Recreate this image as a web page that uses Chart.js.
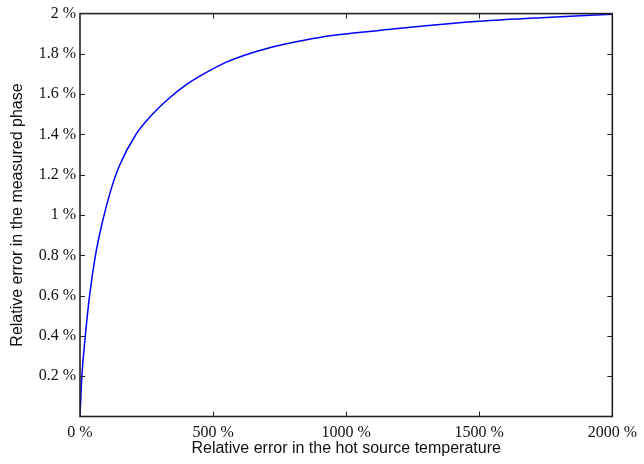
<!DOCTYPE html>
<html>
<head>
<meta charset="utf-8">
<script src="https://cdn.jsdelivr.net/npm/chart.js@4"></script>
<style>
  html, body { margin: 0; padding: 0; background: #ffffff; }
  #wrap { width: 644px; height: 464px; }
</style>
</head>
<body>
<div id="wrap"><canvas id="phaseChart" width="644" height="464"></canvas></div>
<script>
const chartCanvas = document.getElementById("phaseChart");

// relative error in hot source temperature (%)
const tempError = [0, 7, 20, 36, 58, 85, 115, 148, 210, 272, 335, 397, 460, 548, 647, 747, 847, 947, 1047, 1250, 1500, 1750, 2000];
// relative error in measured phase (%)
const phaseError = [0, 0.2, 0.4, 0.6, 0.8, 0.97, 1.12, 1.245, 1.4, 1.5, 1.58, 1.645, 1.697, 1.758, 1.806, 1.842, 1.869, 1.891, 1.906, 1.934, 1.962, 1.981, 1.997];

const xTicks = [0, 500, 1000, 1500, 2000];
const yTicks = [0, 0.2, 0.4, 0.6, 0.8, 1, 1.2, 1.4, 1.6, 1.8, 2];

const palette = {
  line: "#0000ff",
  frame: "#222222",
  text: "#111111"
};

const formatPct = (value) => `${Number(value.toFixed(1))} %`;

// matplotlib-like frame with inward ticks on all four sides
const frameTicksPlugin = {
  id: "frameTicksPlugin",
  afterDraw(chart) {
    const { ctx, chartArea, scales } = chart;
    const { left, right, top, bottom } = chartArea;
    const len = 5;

    ctx.save();
    ctx.strokeStyle = palette.frame;
    ctx.lineWidth = 1;
    xTicks.slice(1, -1).forEach((value) => {
      const x = Math.round(scales.x.getPixelForValue(value)) + 0.5;
      ctx.beginPath();
      ctx.moveTo(x, bottom);
      ctx.lineTo(x, bottom - len);
      ctx.moveTo(x, top);
      ctx.lineTo(x, top + len);
      ctx.stroke();
    });
    yTicks.slice(1, -1).forEach((value) => {
      const y = Math.round(scales.y.getPixelForValue(value)) + 0.5;
      ctx.beginPath();
      ctx.moveTo(left, y);
      ctx.lineTo(left + len, y);
      ctx.moveTo(right, y);
      ctx.lineTo(right - len, y);
      ctx.stroke();
    });

    ctx.lineWidth = 1.6;
    ctx.strokeRect(left, top, right - left, bottom - top);
    ctx.restore();
  }
};

new Chart(chartCanvas, {
  type: "line",
  data: {
    datasets: [
      {
        label: "Phase error",
        data: tempError.map((x, i) => ({ x, y: phaseError[i] })),
        borderColor: palette.line,
        borderWidth: 1.5,
        pointRadius: 0,
        cubicInterpolationMode: "monotone",
        fill: false
      }
    ]
  },
  options: {
    responsive: false,
    animation: false,
    parsing: false,
    layout: {
      padding: { top: 11, right: 28, left: 0, bottom: 0 }
    },
    plugins: {
      legend: { display: false },
      tooltip: { enabled: false }
    },
    scales: {
      x: {
        type: "linear",
        min: 0,
        max: 2000,
        afterFit: (scale) => { scale.height = 47.5; },
        afterBuildTicks: (scale) => { scale.ticks = xTicks.map((value) => ({ value })); },
        grid: { display: false, drawTicks: false },
        border: { display: false },
        ticks: {
          color: palette.text,
          padding: 7,
          maxRotation: 0,
          font: { family: "Liberation Serif", size: 16 },
          callback: (value) => formatPct(value)
        },
        title: {
          display: true,
          text: "Relative error in the hot source temperature",
          color: palette.text,
          padding: { top: 0, bottom: 5.6 },
          font: { family: "Liberation Sans", size: 16 }
        }
      },
      y: {
        min: 0,
        max: 2,
        afterFit: (scale) => { scale.width = 80; },
        afterBuildTicks: (scale) => { scale.ticks = yTicks.map((value) => ({ value })); },
        grid: { display: false, drawTicks: false },
        border: { display: false },
        ticks: {
          color: palette.text,
          padding: 4,
          font: { family: "Liberation Serif", size: 16 },
          callback: (value) => (value === 0 ? "" : formatPct(value))
        },
        title: {
          display: true,
          text: "Relative error in the measured phase",
          color: palette.text,
          padding: { top: 8, bottom: 0 },
          font: { family: "Liberation Sans", size: 16 }
        }
      }
    }
  },
  plugins: [frameTicksPlugin]
});
</script>
</body>
</html>
